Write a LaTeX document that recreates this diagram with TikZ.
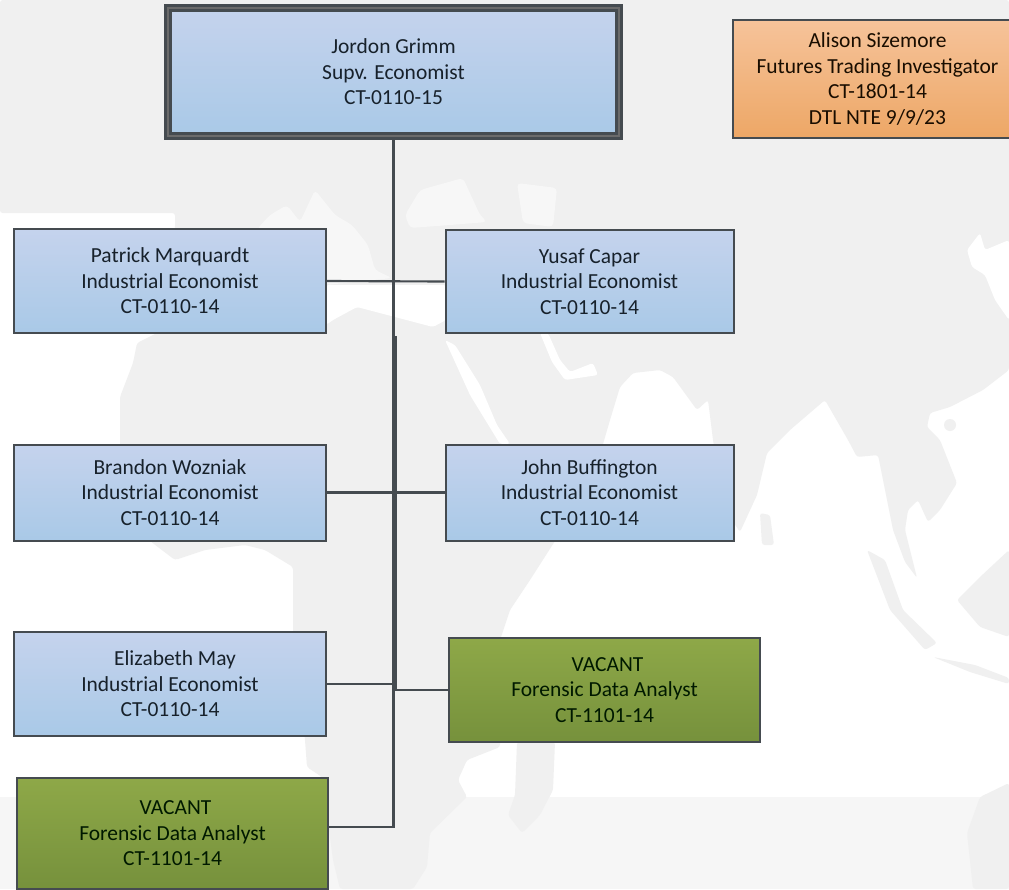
\documentclass[tikz,border=0pt]{standalone}
\usepackage{fontspec}
\setmainfont{Carlito}
\usetikzlibrary{calc}
\definecolor{land}{HTML}{F0F0F0}
\definecolor{band}{HTML}{F6F6F6}
\definecolor{softsea}{HTML}{F7F7F7}
\definecolor{edge}{HTML}{454B50}
\definecolor{ink}{HTML}{17212B}
\definecolor{C5D3ED}{HTML}{C5D3ED}
\definecolor{A9C9E7}{HTML}{A9C9E7}
\definecolor{8EA848}{HTML}{8EA848}
\definecolor{76913C}{HTML}{76913C}
\definecolor{F6C39A}{HTML}{F6C39A}
\definecolor{EDA766}{HTML}{EDA766}
\tikzset{
  person/.style={draw=edge,line width=1.5pt,inner sep=0pt,align=center,text=ink,
    font=\fontsize{16.1}{19.1}\selectfont},
  bluebox/.style={person,top color=C5D3ED,bottom color=A9C9E7},
  greenbox/.style={person,top color=8EA848,bottom color=76913C,text=black!90!green},
  orangebox/.style={person,top color=F6C39A,bottom color=EDA766,text=black!90!orange},
  chief/.style={bluebox,draw=edge,line width=2.2pt,double=black!58,double distance=1.8pt,outer sep=3pt},
  link/.style={draw=edge,line width=1.6pt},
  trunk/.style={draw=edge,line width=3.2pt},
  mapland/.style={fill=land,draw=none,rounded corners=2pt},
  mapsea/.style={fill=white,draw=none,rounded corners=2pt},
  mapfaint/.style={fill=softsea,draw=none,rounded corners=3pt}
}
\begin{document}
\begin{tikzpicture}[x=.75pt,y=-.75pt]
\useasboundingbox (0,0) rectangle (1009,889);
\clip (0,0) rectangle (1009,889);
% background map
\fill[white] (0,0) rectangle (1009,889);
\fill[band] (0,797) rectangle (1009,889);
\path[mapland] (0,0) -- (1009,0) -- (1009,370) -- (983,390) -- (950,407) -- (930,413) -- (927,427) -- (940,440) -- (957,483) -- (940,510) -- (928,522) -- (918,500) -- (908,510) -- (905,530) -- (917,578) -- (905,562) -- (893,530) -- (885,490) -- (878,455) -- (857,457) -- (848,440) -- (825,400) -- (790,430) -- (767,453) -- (757,495) -- (740,532) -- (725,510) -- (713,440) -- (708,400) -- (697,410) -- (673,377) -- (660,370) -- (633,373) -- (620,387) -- (610,420) -- (603,444) -- (590,500) -- (555,541) -- (530,580) -- (510,610) -- (500,640) -- (500,747) -- (467,760) -- (458,780) -- (467,797) -- (430,833) -- (427,867) -- (413,889) -- (340,889) -- (333,860) -- (322,777) -- (307,767) -- (305,740) -- (293,630) -- (293,567) -- (265,550) -- (245,545) -- (205,550) -- (175,560) -- (150,541) -- (125,470) -- (120,443) -- (120,397) -- (133,363) -- (137,343) -- (157,333) -- (175,229) -- (175,213) -- (0,213) -- cycle;
\path[mapfaint] (257,229) -- (270,215) -- (287,205) -- (300,222) -- (315,190) -- (335,215) -- (352,225) -- (368,245) -- (375,270) -- (392,278) -- (326,285) -- (326,229) -- cycle;
\path[mapsea] (326,285) -- (446,285) -- (446,320) -- (433,327) -- (395,317) -- (357,307) -- (333,320) -- (326,325) -- cycle;
\path[mapfaint] (410,228) -- (405,215) -- (420,190) -- (463,178) -- (480,215) -- (487,222) -- (450,225) -- cycle;
\path[mapfaint] (517,183) -- (557,188) -- (553,227) -- (523,223) -- cycle;
\path[mapsea] (445,340) -- (455,345) -- (480,385) -- (497,425) -- (510,444) -- (500,444) -- (470,395) -- cycle;
\path[mapsea] (540,333) -- (548,333) -- (560,360) -- (570,372) -- (593,363) -- (598,375) -- (565,380) -- (552,362) -- cycle;
\path[mapsea] (967,250) -- (980,233) -- (985,250) -- (1009,240) -- (1009,320) -- (995,300) -- (985,275) -- (972,267) -- cycle;
\path[mapland] (760,513) -- (770,515) -- (774,545) -- (762,545) -- cycle;
\path[mapland] (517,742) -- (555,742) -- (553,790) -- (540,815) -- (522,833) -- (508,815) -- (515,795) -- cycle;
\path[mapland] (867,550) -- (885,560) -- (903,610) -- (937,643) -- (925,650) -- (890,610) -- cycle;
\path[mapland] (957,600) -- (980,577) -- (1009,550) -- (1009,637) -- (980,627) -- cycle;
\path[mapland] (933,657) -- (975,665) -- (1009,678) -- (1009,684) -- (970,672) -- cycle;
\path[mapland] (1009,783) -- (980,797) -- (967,833) -- (973,889) -- (1009,889) -- cycle;
\fill[land] (950,425) circle (6);
% people
\node[chief,minimum width=338.25pt,minimum height=96pt] (grimm) at (393.5,72) {Jordon Grimm\\Supv. Economist\\CT-0110-15};
\node[orangebox,minimum width=216.75pt,minimum height=88.5pt] (sizemore) at (877.5,79) {Alison Sizemore\\Futures Trading Investigator\\CT-1801-14\\DTL NTE 9/9/23};
\node[bluebox,minimum width=234pt,minimum height=78pt] (marquardt) at (170,281) {Patrick Marquardt\\Industrial Economist\\CT-0110-14};
\node[bluebox,minimum width=216pt,minimum height=77.25pt] (capar) at (589.5,281.5) {Yusaf Capar\\Industrial Economist\\CT-0110-14};
\node[bluebox,minimum width=234pt,minimum height=72pt] (wozniak) at (170,492.5) {Brandon Wozniak\\Industrial Economist\\CT-0110-14};
\node[bluebox,minimum width=216pt,minimum height=72pt] (buffington) at (589.5,492.5) {John Buffington\\Industrial Economist\\CT-0110-14};
\node[bluebox,minimum width=234pt,minimum height=78pt] (may) at (170,684) {\hspace*{7.5pt}Elizabeth May\\Industrial Economist\\CT-0110-14};
\node[greenbox,minimum width=233.25pt,minimum height=78pt] (vacantr) at (604.5,690) {\hspace*{4.5pt}VACANT\\Forensic Data Analyst\\CT-1101-14};
\node[greenbox,minimum width=233.25pt,minimum height=82.9pt] (vacantl) at (172.5,833.3) {\hspace*{4.5pt}VACANT\\Forensic Data Analyst\\CT-1101-14};
% connectors
\coordinate (trunktop) at (395,336);
\coordinate (trunkend) at (395,690);
\draw[link] (grimm.south) |- ($(vacantl.north east)!.443!(vacantl.south east)$);
\draw[trunk] (trunktop) -- (trunkend);
\draw[link] (trunkend) -- (vacantr.west);
\draw[link] (marquardt.east) -- (capar.west);
\draw[link] (wozniak.east) -- (buffington.west);
\draw[link] (may.east) -- (may.east -| grimm.south);
\end{tikzpicture}
\end{document}
